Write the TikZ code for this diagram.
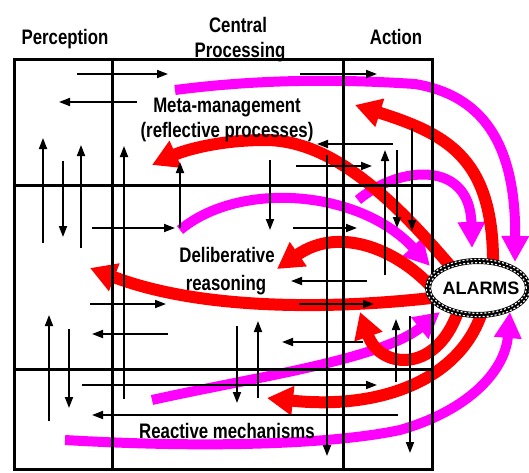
\documentclass[tikz,border=0pt]{standalone}
\usepackage{fontspec}
\usetikzlibrary{arrows.meta}
\newfontfamily\headfont{Liberation Sans}[FakeStretch=0.8]
\newfontfamily\alarmfont{Liberation Sans}
\definecolor{alarmred}{RGB}{255,0,0}
\definecolor{alarmpink}{RGB}{255,0,255}

\begin{document}
\begin{tikzpicture}[x=1pt,y=-1pt,
  grid/.style={line width=3pt},
  flow/.style={line width=1.8pt,-{Triangle[length=11pt,width=8pt]}},
  redband/.style={draw=alarmred,line width=12pt,-{Triangle[length=26pt,width=28pt]}},
  pinkband/.style={draw=alarmpink,line width=10pt,-{Triangle[length=26pt,width=26pt]}},
  layer/.style={font=\headfont\bfseries\fontsize{21}{25}\selectfont,anchor=base,inner sep=0pt}]
\useasboundingbox (0,0) rectangle (529,472);

% alarm signals (pink)
\draw[pinkband] (175,90) .. controls (260,79) and (340,79) .. (415,84) .. controls (480,95) and (516,140) .. (515,262);
\draw[pinkband] (180,230) .. controls (240,180) and (360,190) .. (430,266);
\draw[pinkband] (358,200) .. controls (400,165) and (470,160) .. (472,248);
\draw[pinkband] (65,440) .. controls (200,448) and (330,445) .. (400,430) .. controls (470,410) and (505,370) .. (510,312);
\draw[pinkband] (152,400) .. controls (250,378) and (380,360) .. (440,312);

% alarm responses (red)
\draw[redband] (493,270) .. controls (495,160) and (450,135) .. (355,105);
\draw[redband] (452,268) .. controls (390,195) and (330,140) .. (265,140) .. controls (220,140) and (185,150) .. (152,165);
\draw[redband] (436,292) .. controls (400,250) and (340,225) .. (277,269);
\draw[redband] (440,297) .. controls (330,310) and (200,310) .. (90,268);
\draw[redband] (460,305) .. controls (440,375) and (380,370) .. (360,312);
\draw[redband] (482,312) .. controls (460,380) and (380,410) .. (267,398);

% the 3x3 grid
\draw[grid] (14,59) rectangle (432,469);
\draw[grid] (112,59) -- (112,469);
\draw[grid] (343,59) -- (343,469);
\draw[grid] (14,185) -- (432,185);
\draw[grid] (14,369) -- (432,369);

% information flow
\draw[flow] (77,74) -- (168,74);
\draw[flow] (137,102) -- (59,102);
\draw[flow] (300,74) -- (377,74);
\draw[flow] (43,243) -- (43,138);
\draw[flow] (63,161) -- (63,237);
\draw[flow] (81,248) -- (81,145);
\draw[flow] (124,399) -- (124,146);
\draw[flow] (180,228) -- (180,162);
\draw[flow] (270,160) -- (270,230);
\draw[flow] (92,228) -- (175,228);
\draw[flow] (393,144) -- (317,144);
\draw[flow] (296,166) -- (372,166);
\draw[flow] (385,275) -- (385,150);
\draw[flow] (397,150) -- (397,228);
\draw[flow] (412,128) -- (412,231);
\draw[flow] (327,155) -- (327,456);
\draw[flow] (293,228) -- (357,228);
\draw[flow] (367,281) -- (291,281);
\draw[flow] (299,304) -- (374,304);
\draw[flow] (363,342) -- (282,342);
\draw[flow] (90,304) -- (166,304);
\draw[flow] (168,334) -- (92,334);
\draw[flow] (49,421) -- (49,315);
\draw[flow] (69,329) -- (69,408);
\draw[flow] (237,326) -- (237,403);
\draw[flow] (258,398) -- (258,321);
\draw[flow] (82,385) -- (377,385);
\draw[flow] (398,415) -- (92,415);
\draw[flow] (396,382) -- (396,319);
\draw[flow] (410,316) -- (410,453);

% column and layer names
\node[layer] (perc) at (65,44) {Perception};
\node[layer] (cent) at (238,32) {Central};
\node[layer] (proc) at (240,57) {Processing};
\node[layer] (act) at (396,44) {Action};
\node[layer] (meta) at (227,112) {Meta-management};
\node[layer] (refl) at (227,137) {(reflective processes)};
\node[layer] (delib) at (227,262) {Deliberative};
\node[layer] (reas) at (226,290) {reasoning};
\node[layer] (react) at (227,438) {Reactive mechanisms};

% alarm system
\coordinate (alarmc) at (478,288);
\draw[fill=white,line width=6pt] (alarmc) ellipse [x radius=50pt,y radius=27pt];
\draw[white,line width=1.2pt,dash pattern=on 2pt off 2pt] (alarmc) ellipse [x radius=48.3pt,y radius=25.3pt];
\draw[white,line width=1.2pt,dash pattern=on 2pt off 2pt,dash phase=2pt] (alarmc) ellipse [x radius=51.7pt,y radius=28.7pt];
\node[font=\alarmfont\bfseries\fontsize{18}{18}\selectfont] (alarms) at (481,288) {ALARMS};
\end{tikzpicture}
\end{document}
